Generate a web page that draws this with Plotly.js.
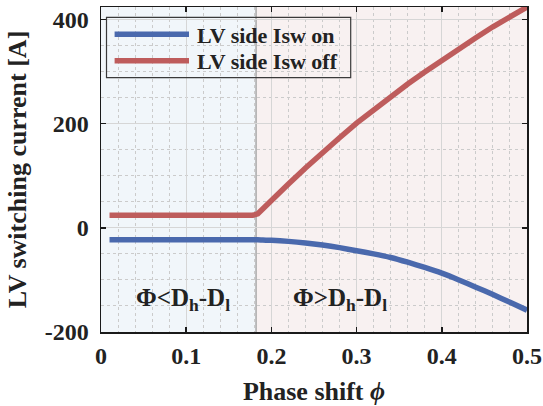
<!DOCTYPE html>
<html>
<head>
<meta charset="utf-8">
<script src="https://cdn.plot.ly/plotly-3.0.1.min.js"></script>
<style>html,body{margin:0;padding:0;background:#fff;}#chart{width:543px;height:406px;}</style>
</head>
<body>
<div id="chart"></div>
<script>
// ---- data ----
var phi = [0.01, 0.05, 0.10, 0.15, 0.178, 0.184, 0.19, 0.20, 0.22, 0.24, 0.26, 0.28, 0.30,
           0.32, 0.34, 0.36, 0.38, 0.40, 0.42, 0.44, 0.46, 0.48, 0.50];
var iswOn = [-23, -23, -23, -23, -23, -23, -23.5, -24, -26, -29, -33, -38, -44,
             -50, -57, -66, -76, -87, -100, -114, -128, -143, -158];
var iswOff = [24, 24, 24, 24, 24, 27, 36, 52, 84, 115, 145, 173, 201,
              227, 252, 276, 299, 322, 344, 365, 386, 405, 424];
var seriesNames = ['LV side Isw on', 'LV side Isw off'];
var seriesColors = ['#4a69ad', '#be5c5c'];
var xTickVals = [0, 0.1, 0.2, 0.3, 0.4, 0.5];
var xTickText = ['0', '0.1', '0.2', '0.3', '0.4', '0.5'];
var yTickVals = [-200, 0, 200, 400];
var yTickText = ['-200', '0', '200', '400'];
var boundary = 0.182;            // Phi = Dh - Dl
var regionLabels = ['\u03A6&lt;D<sub>h</sub>-D<sub>l</sub>', '\u03A6&gt;D<sub>h</sub>-D<sub>l</sub>'];
var regionLabelX = [0.096, 0.28];
var regionLabelY = -138;

// ---- layout geometry (pixels) ----
var W = 543, H = 406, ML = 101, MR = 16, MT = 7, MB = 74;
var PW = W - ML - MR, PH = H - MT - MB;
function px2x(p) { return (p - ML) / PW; }
function px2y(p) { return 1 - (p - MT) / PH; }

var FONT = 'Liberation Serif, Times New Roman, serif';
var TXT = '#222222';

var traces = [
  {x: phi, y: iswOn, name: seriesNames[0], mode: 'lines', line: {color: seriesColors[0], width: 5.5, shape: 'spline', smoothing: 0.5}, showlegend: false},
  {x: phi, y: iswOff, name: seriesNames[1], mode: 'lines', line: {color: seriesColors[1], width: 5.5}, showlegend: false}
];

// legend box drawn by hand (long sample lines as in the reference)
var legL = 106.5, legR = 350.7, legT = 17.3, legB = 77.7;
var legLineX0 = 114.6, legLineX1 = 189, legTextX = 195;
var legRowY = [34.3, 60.7];

var shapes = [
  {type: 'rect', xref: 'x', yref: 'paper', x0: 0, x1: boundary, y0: 0, y1: 1,
   fillcolor: '#f1f6fa', line: {width: 0}, layer: 'below'},
  {type: 'rect', xref: 'x', yref: 'paper', x0: boundary, x1: 0.5, y0: 0, y1: 1,
   fillcolor: '#f8f1f1', line: {width: 0}, layer: 'below'},
  {type: 'line', xref: 'x', yref: 'paper', x0: boundary, x1: boundary, y0: 0, y1: 1,
   line: {color: '#a8a8a8', width: 1.5}, layer: 'below'},
  {type: 'rect', xref: 'paper', yref: 'paper', x0: px2x(legL), x1: px2x(legR), y0: px2y(legB), y1: px2y(legT),
   line: {color: '#3a3a3a', width: 1.2}, fillcolor: 'rgba(0,0,0,0)', layer: 'above'}
];
var annotations = [];
for (var i = 0; i < 2; i++) {
  shapes.push({type: 'line', xref: 'paper', yref: 'paper', x0: px2x(legLineX0), x1: px2x(legLineX1),
               y0: px2y(legRowY[i]), y1: px2y(legRowY[i]), line: {color: seriesColors[i], width: 5.5}, layer: 'above'});
  annotations.push({xref: 'paper', yref: 'paper', x: px2x(legTextX), y: px2y(legRowY[i] + 1), xanchor: 'left', yanchor: 'middle',
                    text: seriesNames[i], showarrow: false, font: {family: FONT, size: 22, color: TXT, weight: 'bold'}});
}
for (var j = 0; j < 2; j++) {
  annotations.push({xref: 'x', yref: 'y', x: regionLabelX[j], y: regionLabelY, text: regionLabels[j],
                    showarrow: false, font: {family: FONT, size: 25, color: TXT, weight: 'bold'}});
}

var axisCommon = {
  showline: true, linecolor: '#1a1a1a', linewidth: 1.5, mirror: 'ticks',
  ticks: 'inside', ticklen: 5, tickwidth: 1.5, tickcolor: '#1a1a1a',
  showgrid: true, gridcolor: '#d6d6d6', gridwidth: 1, zeroline: false,
  tickfont: {family: FONT, size: 24, color: TXT, weight: 'bold'}
};

var layout = {
  width: W, height: H,
  margin: {l: ML, r: MR, t: MT, b: MB},
  paper_bgcolor: '#ffffff', plot_bgcolor: '#ffffff',
  showlegend: false,
  xaxis: Object.assign({}, axisCommon, {
    range: [0, 0.5], tickmode: 'array', tickvals: xTickVals, ticktext: xTickText,
    ticklabelstandoff: 2,
    minor: {dtick: 0.02, tick0: 0, showgrid: true, gridcolor: '#cbcbcb', griddash: 'dot', gridwidth: 1, ticks: ''},
    title: {text: 'Phase shift <i>\u03D5</i>', standoff: 14, font: {family: FONT, size: 26, color: TXT, weight: 'bold'}}
  }),
  yaxis: Object.assign({}, axisCommon, {
    range: [-200, 424], tickmode: 'array', tickvals: yTickVals, ticktext: yTickText,
    ticklabelstandoff: 6,
    minor: {dtick: 50, tick0: 0, showgrid: true, gridcolor: '#cbcbcb', griddash: 'dot', gridwidth: 1, ticks: ''},
    title: {text: 'LV switching current [A]', standoff: 10, font: {family: FONT, size: 26, color: TXT, weight: 'bold'}}
  }),
  shapes: shapes,
  annotations: annotations
};

Plotly.newPlot('chart', traces, layout, {staticPlot: true, displayModeBar: false});
</script>
</body>
</html>
